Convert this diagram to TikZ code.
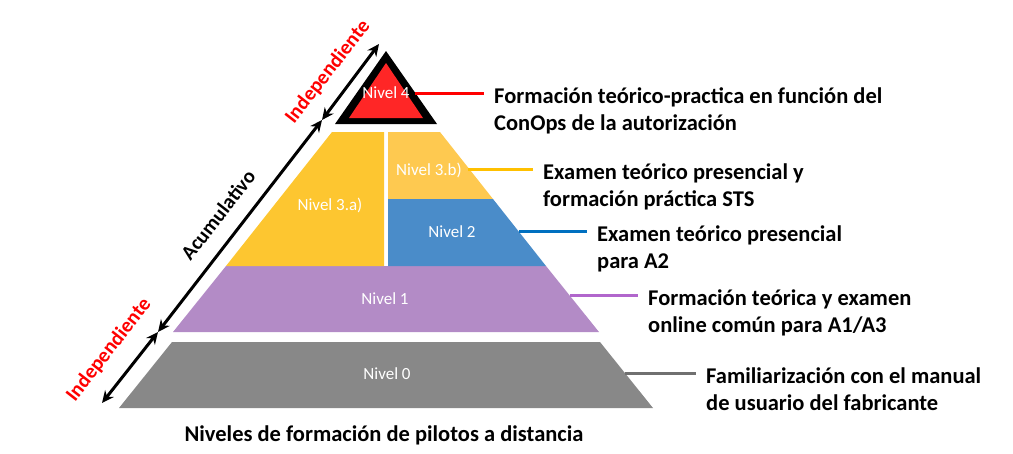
\documentclass[tikz,border=0pt]{standalone}
\usepackage{fontspec}
\setmainfont{Carlito}
\usetikzlibrary{arrows.meta}

\definecolor{grisN}{RGB}{136,136,136}
\definecolor{moradoN}{RGB}{179,139,198}
\definecolor{amarilloA}{RGB}{253,198,48}
\definecolor{amarilloB}{RGB}{254,201,80}
\definecolor{azulN}{RGB}{74,140,201}
\definecolor{rojoN}{RGB}{255,38,38}
\definecolor{lineaAm}{RGB}{255,192,0}
\definecolor{lineaAz}{RGB}{0,112,192}
\definecolor{lineaMo}{RGB}{177,102,204}
\definecolor{lineaGr}{RGB}{112,112,112}

\tikzset{
  nivel/.style={text=white, inner sep=1pt, font=\fontsize{17}{20}\selectfont},
  desc/.style={anchor=base west, align=left, inner sep=0pt, font=\bfseries\fontsize{22.5}{27}\selectfont},
  enlace/.style={line width=3pt, shorten >=10pt},
  flecha/.style={{Stealth[length=12pt,width=11pt]}-{Stealth[length=12pt,width=11pt]}, line width=3pt},
  lado/.style={rotate=52, font=\bfseries\fontsize{20.5}{24}\selectfont}
}

\begin{document}
\begin{tikzpicture}[x=1pt,y=-1pt]
\useasboundingbox (0,0) rectangle (1013,453);

% piramide
\fill[grisN] (119,408) -- (172,342) -- (600,342) -- (653,408) -- cycle;
\fill[moradoN] (173,332) -- (226,266) -- (546,266) -- (599,332) -- cycle;
\fill[amarilloA] (226,266) -- (332,132) -- (384,132) -- (384,266) -- cycle;
\fill[amarilloB] (388,132) -- (440,132) -- (493,199) -- (388,199) -- cycle;
\fill[azulN] (388,199) -- (493,199) -- (546,266) -- (388,266) -- cycle;
\fill[black] (335,124) -- (386,51) -- (437,124) -- cycle;
\fill[rojoN] (349,118) -- (386,63) -- (423,118) -- cycle;

\node[nivel] (n4) at (386,93) {Nivel 4};
\node[nivel] (n3b) at (429,170) {Nivel 3.b)};
\node[nivel] (n3a) at (330,205) {Nivel 3.a)};
\node[nivel] (n2) at (452,232) {Nivel 2};
\node[nivel] (n1) at (385,299) {Nivel 1};
\node[nivel] (n0) at (387,374) {Nivel 0};

% descripciones (base = ultima linea)
\node[desc] (d4) at (494,130) {Formación teórico-practica en función del\\ConOps de la autorización};
\node[desc] (d3b) at (543,206) {Examen teórico presencial y\\formación práctica STS};
\node[desc] (d2) at (597,268) {Examen teórico presencial\\para A2};
\node[desc] (d1) at (648,332) {Formación teórica y examen\\online común para A1/A3};
\node[desc] (d0) at (706,410) {Familiarización con el manual\\de usuario del fabricante};

\coordinate (e4) at (415,93);
\coordinate (e3b) at (468,169);
\coordinate (e2) at (519,231);
\coordinate (e1) at (570,295);
\coordinate (e0) at (625,373);
\draw[enlace,red] (e4) -- (e4 -| d4.west);
\draw[enlace,lineaAm] (e3b) -- (e3b -| d3b.west);
\draw[enlace,lineaAz] (e2) -- (e2 -| d2.west);
\draw[enlace,lineaMo] (e1) -- (e1 -| d1.west);
\draw[enlace,lineaGr] (e0) -- (e0 -| d0.west);

% flechas laterales
\coordinate (f0) at (102,403);
\coordinate (f1) at (158,332);
\coordinate (f2) at (322,120);
\coordinate (f3) at (379,44);
\draw[flecha] (f0) -- (f1);
\draw[flecha] (f1) -- (f2);
\draw[flecha] (f2) -- (f3);
\node[lado,red] (ind0) at (109,350) {Independiente};
\node[lado] (acu) at (218,215) {Acumulativo};
\node[lado,red] (ind1) at (328,72) {Independiente};

\node[anchor=base, font=\bfseries\fontsize{22.5}{24}\selectfont] (titulo) at (384,441) {Niveles de formación de pilotos a distancia};
\end{tikzpicture}
\end{document}
